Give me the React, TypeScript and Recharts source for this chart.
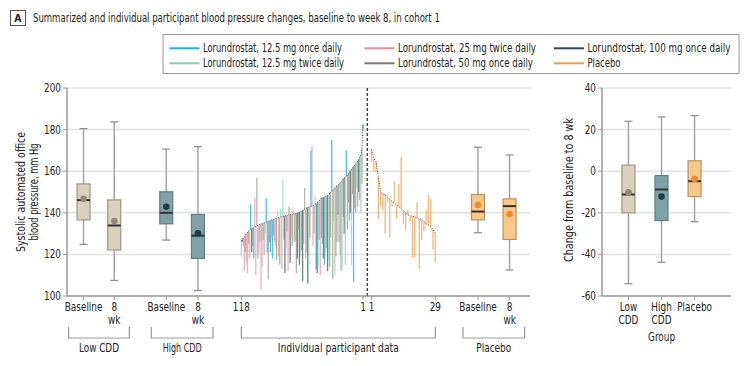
import React, { useLayoutEffect, useRef, useState } from 'react';
import { ComposedChart, Bar, Line, Scatter, XAxis, YAxis, CartesianGrid, ReferenceLine } from 'recharts';

const FONT = '"DejaVu Sans Condensed", "Liberation Sans", sans-serif';
const SQUEEZE = 0.86;

// summary boxes, systolic BP (mm Hg): whisker low, Q1, median, Q3, whisker high, mean
const lowCddBaseline = [124.8, 136.6, 146.1, 153.9, 180.5, 146.7];
const lowCddWeek8 = [107.5, 122.1, 133.9, 146.2, 183.7, 136.0];
const highCddBaseline = [126.9, 134.7, 140.0, 150.1, 170.6, 142.9];
const highCddWeek8 = [102.6, 118.1, 129.0, 139.2, 171.8, 130.2];
const placeboBaseline = [130.4, 136.6, 140.6, 148.8, 171.5, 143.7];
const placeboWeek8 = [112.5, 127.2, 143.2, 146.7, 167.8, 139.4];

// change from baseline to week 8 (same layout)
const changeLow = [-54.1, -20.0, -11.2, 2.9, 24.0, -10.1];
const changeHigh = [-43.8, -23.7, -8.8, -2.1, 26.1, -12.2];
const changePlacebo = [-24.3, -12.2, -4.8, 5.0, 26.7, -3.8];

// active participants, #118 (left) to #1 (right)
// c = 12.5 mg once, m = 12.5 mg twice, p = 25 mg twice, g = 50 mg once, d = 100 mg once
const activeDose = [
  'm', 'd', 'g', 'p', 'g', 'p', 'p', 'g', 'p', 'c',
  'd', 'g', 'c', 'p', 'p', 'g', 'g', 'p', 'g', 'p',
  'p', 'g', 'g', 'm', 'c', 'c', 'g', 'g', 'c', 'p',
  'c', 'g', 'p', 'p', 'g', 'm', 'p', 'g', 'm', 'p',
  'm', 'g', 'd', 'p', 'g', 'p', 'g', 'd', 'p', 'g',
  'p', 'g', 'm', 'g', 'd', 'p', 'd', 'm', 'g', 'd',
  'g', 'g', 'p', 'g', 'd', 'm', 'g', 'c', 'p', 'p',
  'g', 'm', 'c', 'd', 'm', 'g', 'p', 'g', 'g', 'd',
  'c', 'm', 'g', 'd', 'm', 'g', 'g', 'c', 'g', 'p',
  'm', 'g', 'g', 'c', 'g', 'p', 'g', 'm', 'g', 'd',
  'm', 'c', 'g', 'g', 'g', 'd', 'm', 'g', 'c', 'g',
  'g', 'm', 'g', 'd', 'g', 'm', 'g', 'c',
];
const activeBaseline = [
  126.4, 127.2, 128.0, 128.6, 129.3, 130.0, 130.6, 131.2, 131.6, 132.0,
  132.4, 132.6, 132.8, 133.2, 133.6, 133.8, 134.0, 134.2, 134.4, 134.6,
  134.8, 134.9, 135.1, 135.3, 135.5, 135.7, 135.9, 136.1, 136.3, 136.5,
  136.7, 136.8, 137.0, 137.2, 137.4, 137.6, 137.6, 137.8, 138.0, 138.2,
  138.3, 138.4, 138.5, 138.6, 138.7, 138.9, 139.0, 139.1, 139.2, 139.3,
  139.4, 139.5, 139.6, 139.8, 139.9, 140.0, 140.3, 140.6, 140.9, 141.2,
  141.5, 141.8, 142.1, 142.4, 142.6, 142.8, 143.0, 143.1, 143.2, 143.5,
  143.8, 144.1, 144.4, 144.8, 145.3, 145.9, 146.5, 147.0, 147.2, 147.4,
  147.6, 147.8, 148.0, 148.5, 149.0, 149.5, 150.0, 150.5, 151.0, 151.5,
  152.0, 152.4, 152.8, 153.3, 153.9, 154.5, 155.0, 155.6, 156.2, 156.8,
  157.2, 157.6, 158.3, 159.0, 159.7, 160.3, 161.0, 161.7, 162.4, 163.0,
  163.6, 164.2, 164.9, 165.6, 166.8, 168.0, 171.0, 182.5,
];
const activeWeek8 = [
  119, 126, 124, 112, 121, 116, 111, 125, 118, 144,
  121, 124, 118, 147, 110, 157, 118, 121, 126, 103,
  114, 127, 120, 130, 147, 121, 108, 126, 121, 128,
  118, 129, 126, 124, 117, 141, 119, 115, 142, 113,
  156, 127, 111, 123, 131, 112, 143, 116, 128, 124,
  141, 126, 126, 111, 118, 132, 115, 119, 122, 107,
  125, 152, 118, 121, 106, 115, 128, 170, 172, 124,
  130, 148, 113, 111, 114, 127, 110, 128, 125, 118,
  115, 121, 123, 112, 117, 114, 128, 175, 108, 136,
  110, 119, 126, 139, 126, 120, 112, 113, 138, 130,
  115, 170, 132, 145, 136, 140, 115, 149, 107, 142,
  140, 152, 143, 150, 146, 140, 154, 179.5,
];

// placebo participants, #1 (left) to #29 (right)
const placeboBase = [
  170.5, 166.0, 164.5, 157.0, 150.0, 149.3, 148.6, 147.5, 146.5, 145.5,
  144.8, 143.8, 143.0, 142.0, 141.0, 140.0, 139.0, 138.6, 138.3, 138.0,
  137.6, 137.2, 136.8, 135.8, 134.6, 134.0, 133.2, 131.8, 130.4,
];
const placeboW8 = [
  164.5, 160.0, 159.5, 137.0, 143.0, 141.0, 130.0, 145.0, 128.0, 143.0,
  155.0, 137.0, 154.0, 167.0, 134.5, 132.0, 141.5, 136.0, 118.5, 118.5,
  145.0, 113.0, 127.0, 131.0, 141.5, 148.5, 147.0, 122.5, 116.0,
];

const legendItems = [
  { key: 'c', label: 'Lorundrostat, 12.5 mg once daily', w: 139 },
  { key: 'p', label: 'Lorundrostat, 25 mg twice daily', w: 138 },
  { key: 'd', label: 'Lorundrostat, 100 mg once daily', w: 143 },
  { key: 'm', label: 'Lorundrostat, 12.5 mg twice daily', w: 141 },
  { key: 'g', label: 'Lorundrostat, 50 mg once daily', w: 135 },
  { key: 'pl', label: 'Placebo', w: 33 },
];

// colours
const LEGEND_COLOR: Record<string, string> = {
  c: '#1cb3e8', p: '#e58a9d', d: '#2e4a59', m: '#86cfae', g: '#7c776b', pl: '#f59a45',
};
const BAR_COLOR: Record<string, string> = {
  c: '#2bb6ea', p: '#e8a6b4', d: '#4f6c79', m: '#a0d9c1', g: '#aca698', pl: '#f6a860',
};
const BOX_STYLE: Record<string, { fill: string; stroke: string; dot: string }> = {
  low: { fill: '#dad1bc', stroke: '#9d9583', dot: '#958a77' },
  high: { fill: '#7fa2aa', stroke: '#5d7e87', dot: '#1f3d49' },
  placebo: { fill: '#f9c88b', stroke: '#b8925f', dot: '#f08a2b' },
};

// layout along the left x axis (px from the y axis)
const LEFT_W = 548;
const LEFT_YW = 67;
const X_MAX = 463;
const POS = { lowB: 16.6, low8: 47.3, highB: 99.3, high8: 131, act0: 174.3, act1: 296, split: 300.3, pl0: 304.6, pl1: 368.3, plB: 411, pl8: 442.6 };
const actStep = (POS.act1 - POS.act0) / (activeBaseline.length - 1);
const plStep = (POS.pl1 - POS.pl0) / (placeboBase.length - 1);

const boxRow = (x: number, s: number[], group: string) => ({
  x, kind: 'box', group, range: [s[0], s[4]], q1: s[1], median: s[2], q3: s[3], mean: s[5],
});

const leftBoxes = [
  boxRow(POS.lowB, lowCddBaseline, 'low'),
  boxRow(POS.low8, lowCddWeek8, 'low'),
  boxRow(POS.highB, highCddBaseline, 'high'),
  boxRow(POS.high8, highCddWeek8, 'high'),
  boxRow(POS.plB, placeboBaseline, 'placebo'),
  boxRow(POS.pl8, placeboWeek8, 'placebo'),
];
const activeRows = activeBaseline.map((b, i) => ({
  x: POS.act0 + i * actStep, kind: 'pt', dose: activeDose[i], base: b,
  range: [Math.min(b, activeWeek8[i]), Math.max(b, activeWeek8[i])],
}));
const placeboRows = placeboBase.map((b, i) => ({
  x: POS.pl0 + i * plStep, kind: 'pt', dose: 'pl', base: b,
  range: [Math.min(b, placeboW8[i]), Math.max(b, placeboW8[i])],
}));
const leftData = [...leftBoxes.slice(0, 4), ...activeRows, ...placeboRows, ...leftBoxes.slice(4)];

const leftTicks = [
  { x: POS.lowB, lines: ['Baseline'] }, { x: POS.low8, lines: ['8', 'wk'] },
  { x: POS.highB, lines: ['Baseline'] }, { x: POS.high8, lines: ['8', 'wk'] },
  { x: POS.act0, lines: ['118'] }, { x: POS.act1, lines: ['1'] },
  { x: POS.pl0, lines: ['1'] }, { x: POS.pl1, lines: ['29'] },
  { x: POS.plB, lines: ['Baseline'] }, { x: POS.pl8, lines: ['8', 'wk'] },
];

// right panel
const RIGHT_W = 200;
const RIGHT_YW = 54;
const R_MAX = 3.9;
const rightData = [
  boxRow(0.8, changeLow, 'low'),
  boxRow(1.8, changeHigh, 'high'),
  boxRow(2.8, changePlacebo, 'placebo'),
];
const rightTicks = [
  { x: 0.8, lines: ['Low', 'CDD'] },
  { x: 1.8, lines: ['High', 'CDD'] },
  { x: 2.8, lines: ['Placebo'] },
];

const renderMark = (props: any) => {
  const { x, y, width, height, payload } = props;
  if (x == null || y == null || !payload) return <g />;
  const cx = x + width / 2;
  const top = height < 0 ? y + height : y;
  const h = Math.abs(height);
  if (payload.kind === 'pt') {
    return <rect x={cx - 0.65} y={top} width={1.3} height={Math.max(h, 0.8)} fill={BAR_COLOR[payload.dose]} fillOpacity={0.85} />;
  }
  const [lo, hi] = payload.range;
  const py = (v: number) => top + ((hi - v) / (hi - lo)) * h;
  const st = BOX_STYLE[payload.group];
  const bw = 13;
  return (
    <g>
      <line x1={cx} x2={cx} y1={top} y2={top + h} stroke="#a5a5a5" strokeWidth={1.5} />
      <line x1={cx - 4} x2={cx + 4} y1={top} y2={top} stroke="#8c8c8c" strokeWidth={1.2} />
      <line x1={cx - 4} x2={cx + 4} y1={top + h} y2={top + h} stroke="#8c8c8c" strokeWidth={1.2} />
      <rect x={cx - bw / 2} y={py(payload.q3)} width={bw} height={py(payload.q1) - py(payload.q3)} fill={st.fill} stroke={st.stroke} strokeWidth={1.2} />
      <line x1={cx - bw / 2} x2={cx + bw / 2} y1={py(payload.median)} y2={py(payload.median)} stroke="#333" strokeWidth={2} />
    </g>
  );
};

const renderMean = (props: any) => (
  <circle cx={props.cx} cy={props.cy} r={3.3} fill={BOX_STYLE[props.payload.group].dot} />
);

// narrow text, squeezed horizontally around its anchor
const Narrow = ({ x, y, anchor = 'middle', size = 11.5, children }: any) => (
  <text transform={`translate(${x},${y}) scale(${SQUEEZE},1)`} textAnchor={anchor} fontSize={size} fill="#222" fontFamily={FONT}>
    {children}
  </text>
);

const makeTick = (list: { x: number; lines: string[] }[]) => (props: any) => {
  const { x, y, payload } = props;
  const item = list.reduce((a, b) => (Math.abs(b.x - payload.value) < Math.abs(a.x - payload.value) ? b : a));
  return (
    <g>
      {item.lines.map((t, k) => (
        <Narrow key={k} x={x} y={y + 8.5 + k * 13.5}>{t}</Narrow>
      ))}
    </g>
  );
};

const yTickRender = (props: any) => (
  <Narrow x={props.x} y={props.y + 4} anchor="end">{props.payload.value}</Narrow>
);

const axisProps = { stroke: '#9a9a9a', strokeWidth: 1.5 };

// text squeezed to the width it has in the figure
function Fit({ x, y, w, anchor = 'start', size = 11.5, rotate = false, children }: any) {
  const ref = useRef<SVGTextElement>(null);
  const [k, setK] = useState(SQUEEZE);
  useLayoutEffect(() => {
    const n = ref.current ? ref.current.getComputedTextLength() : 0;
    if (n > 0) setK(w / n);
  }, [w, size]);
  const t = `translate(${x},${y})${rotate ? ' rotate(-90)' : ''} scale(${k},1)`;
  return (
    <text ref={ref} transform={t} textAnchor={anchor} fontSize={size} fill="#222" fontFamily={FONT}>
      {children}
    </text>
  );
}

function Overlay() {
  const lx = (p: number) => LEFT_YW + p;
  const brackets = [
    { a: lx(POS.lowB) - 15, b: lx(POS.low8) + 15, label: 'Low CDD', w: 40 },
    { a: lx(POS.highB) - 15, b: lx(POS.high8) + 15, label: 'High CDD', w: 39 },
    { a: lx(POS.act0), b: lx(POS.pl1), label: 'Individual participant data', w: 121 },
    { a: lx(POS.plB) - 15, b: lx(POS.pl8) + 15, label: 'Placebo', w: 35 },
  ];
  const cols = [169.5, 364.5, 554];
  const rPlotW = RIGHT_W - RIGHT_YW - 17;
  return (
    <svg width={748} height={366} style={{ position: 'absolute', left: 0, top: 0, pointerEvents: 'none' }} fontFamily={FONT}>
      <rect x={10.5} y={10.5} width={15} height={15} fill="none" stroke="#555" />
      <text x={18} y={22} textAnchor="middle" fontSize={10.5} fontWeight="bold" fill="#222">A</text>
      <Fit x={33} y={22} w={407} size={12.5}>
        Summarized and individual participant blood pressure changes, baseline to week 8, in cohort 1
      </Fit>

      <rect x={163} y={34.5} width={576} height={39} fill="#fff" stroke="#9a9a9a" />
      {legendItems.map((it, k) => {
        const cx = cols[k % 3];
        const cy = k < 3 ? 48.3 : 63.3;
        return (
          <g key={it.key}>
            <line x1={cx} x2={cx + 30} y1={cy} y2={cy} stroke={LEGEND_COLOR[it.key]} strokeWidth={2} />
            <Fit x={cx + 33.5} y={cy + 4} w={it.w} size={11.5}>{it.label}</Fit>
          </g>
        );
      })}

      <Fit x={25} y={192} w={120} anchor="middle" size={12.5} rotate>Systolic automated office</Fit>
      <Fit x={38} y={192} w={97} anchor="middle" size={12.5} rotate>blood pressure, mm Hg</Fit>

      {brackets.map((b) => (
        <g key={b.label}>
          <path d={`M${b.a},327 V338 H${b.b} V327`} fill="none" stroke="#9a9a9a" strokeWidth={1.2} />
          <Fit x={(b.a + b.b) / 2} y={352} w={b.w} anchor="middle" size={12}>{b.label}</Fit>
        </g>
      ))}

      <Fit x={573} y={190} w={144} anchor="middle" size={12.5} rotate>Change from baseline to 8 wk</Fit>
      <Fit x={LEFT_W + RIGHT_YW + (1.8 / R_MAX) * rPlotW} y={341} w={27} anchor="middle" size={12}>Group</Fit>
    </svg>
  );
}

export default function App() {
  return (
    <div style={{ position: 'absolute', left: 0, top: 0, width: 748, height: 366, background: '#fff', fontFamily: FONT }}>
      <div style={{ position: 'absolute', left: 0, top: 0 }}>
        <ComposedChart width={LEFT_W} height={366} data={leftData} margin={{ top: 88, right: 18, bottom: 40, left: 0 }}>
          <CartesianGrid horizontal vertical={false} stroke="#e2e2e2" strokeWidth={1.5} />
          <XAxis
            type="number"
            dataKey="x"
            domain={[0, X_MAX]}
            ticks={leftTicks.map((t) => t.x)}
            interval={0}
            height={30}
            tickSize={4}
            tickMargin={2}
            axisLine={axisProps}
            tickLine={{ stroke: '#9a9a9a' }}
            tick={makeTick(leftTicks)}
            allowDataOverflow
          />
          <YAxis
            type="number"
            domain={[100, 200]}
            ticks={[100, 120, 140, 160, 180, 200]}
            width={LEFT_YW}
            tickSize={4}
            tickMargin={2}
            axisLine={axisProps}
            tickLine={{ stroke: '#9a9a9a' }}
            tick={yTickRender}
            allowDataOverflow
          />
          <Bar dataKey="range" barSize={2} shape={renderMark} isAnimationActive={false} />
          <Line data={activeRows} dataKey="base" stroke="#4a4a4a" strokeWidth={1} strokeDasharray="1 1.5" dot={false} activeDot={false} isAnimationActive={false} />
          <Line data={placeboRows} dataKey="base" stroke="#4a4a4a" strokeWidth={1} strokeDasharray="1 1.5" dot={false} activeDot={false} isAnimationActive={false} />
          <ReferenceLine x={POS.split} stroke="#444" strokeWidth={1.5} strokeDasharray="3 2" />
          <Scatter data={leftBoxes} dataKey="mean" shape={renderMean} isAnimationActive={false} />
        </ComposedChart>
      </div>
      <div style={{ position: 'absolute', left: LEFT_W, top: 0 }}>
        <ComposedChart width={RIGHT_W} height={366} data={rightData} margin={{ top: 88, right: 17, bottom: 40, left: 0 }}>
          <CartesianGrid horizontal vertical={false} stroke="#e2e2e2" strokeWidth={1.5} />
          <XAxis
            type="number"
            dataKey="x"
            domain={[0, R_MAX]}
            ticks={rightTicks.map((t) => t.x)}
            interval={0}
            height={30}
            tickSize={4}
            tickMargin={2}
            axisLine={axisProps}
            tickLine={{ stroke: '#9a9a9a' }}
            tick={makeTick(rightTicks)}
          />
          <YAxis
            type="number"
            domain={[-60, 40]}
            ticks={[-60, -40, -20, 0, 20, 40]}
            width={RIGHT_YW}
            tickSize={4}
            tickMargin={2}
            axisLine={axisProps}
            tickLine={{ stroke: '#9a9a9a' }}
            tick={yTickRender}
          />
          <Bar dataKey="range" barSize={13} shape={renderMark} isAnimationActive={false} />
          <Scatter dataKey="mean" shape={renderMean} isAnimationActive={false} />
        </ComposedChart>
      </div>
      <Overlay />
    </div>
  );
}
